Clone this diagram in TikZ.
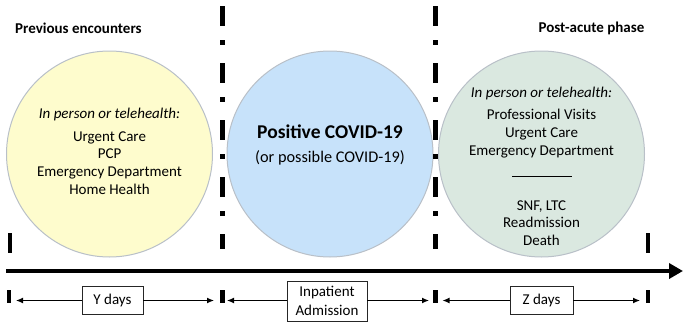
\documentclass[tikz,border=0pt]{standalone}
\usepackage{fontspec}
\setmainfont{Carlito}
\usetikzlibrary{arrows.meta}
\definecolor{cyellow}{RGB}{254,252,205}
\definecolor{cblue}{RGB}{199,226,250}
\definecolor{cgreen}{RGB}{218,232,224}
\definecolor{cedge}{RGB}{185,192,200}
\tikzset{
  phase/.style={circle, draw=cedge, line width=1pt, minimum size=206pt, inner sep=0pt},
  body/.style={inner sep=0pt, align=center, font=\fontsize{15}{17.8}\selectfont},
  heading/.style={inner sep=0pt, font=\fontsize{15}{18}\selectfont\bfseries},
  sep/.style={line width=4.4pt, dash pattern=on 20pt off 14pt on 5pt off 18pt},
  tick/.style={line width=4.4pt},
  span/.style={line width=1.2pt, -{Latex[length=7pt,width=6pt]}},
  daybox/.style={draw=black!85, line width=0.9pt, fill=white, inner sep=0pt, align=center, font=\fontsize{15}{18.5}\selectfont},
  timeline/.style={line width=4.5pt, -{Triangle[length=14pt,width=15pt]}}
}
\begin{document}
\begin{tikzpicture}[x=1pt,y=-1pt]
\useasboundingbox (0,0) rectangle (683,322);

% headings
\node[heading, anchor=west] (hprev) at (15,28) {Previous encounters};
\node[heading, anchor=east] (hpost) at (644.5,28) {Post-acute phase};

% phase circles
\node[phase, fill=cyellow] (cy) at (109.5,154) {};
\node[phase, fill=cblue] (cb) at (330,154) {};
\node[phase, fill=cgreen] (cg) at (541.5,154) {};

% circle texts
\node[body] (ty) at (109.5,151.5) {\textit{In person or telehealth:}\\[4.5pt]Urgent Care\\PCP\\Emergency Department\\Home Health};
\node[inner sep=0pt, font=\fontsize{19.5}{22}\selectfont\bfseries] (tb1) at (330,132) {Positive COVID-19};
\node[inner sep=0pt, font=\fontsize{16.3}{19}\selectfont] (tb2) at (330,158) {(or possible COVID-19)};
\node[body] (tg1) at (541.5,122.5) {\textit{In person or telehealth:}\\[4pt]Professional Visits\\Urgent Care\\Emergency Department};
\node[body] (tg2) at (541.5,223) {SNF, LTC\\Readmission\\Death};
\coordinate (gl1) at (512,176);
\coordinate (gl2) at (572,176);
\draw[line width=0.8pt] (gl1) -- (gl2);

% dash-dot separators
\draw[sep] (222.5,6) -- (222.5,249);
\draw[sep] (435.5,6) -- (435.5,249);

% upper end ticks
\draw[tick] (10,233) -- (10,253);
\draw[tick] (648,233) -- (648,253);

% main timeline
\coordinate (tl0) at (6,271);
\coordinate (tl1) at (683,271);
\draw[timeline] (tl0) -- (tl1);

% lower ticks
\draw[tick] (9,290) -- (9,303);
\draw[tick] (222.5,290) -- (222.5,303);
\draw[tick] (435.5,290) -- (435.5,303);
\draw[tick] (648,290) -- (648,303);

% boxes
\node[daybox, minimum width=61pt, minimum height=28pt] (yb) at (112.5,300.5) {Y days};
\node[daybox, minimum width=80pt, minimum height=40pt] (ib) at (327,301) {Inpatient\\Admission};
\node[daybox, minimum width=63pt, minimum height=28pt] (zb) at (541.5,300.5) {Z days};

\coordinate (ya) at (16,300.5);
\coordinate (yz) at (214,300.5);
\coordinate (ia) at (227,300.5);
\coordinate (iz) at (429,300.5);
\coordinate (za) at (442.5,300.5);
\coordinate (zz) at (640,300.5);

\draw[span] (yb.west) -- (ya);
\draw[span] (yb.east) -- (yz);
\draw[span] (ib.west |- ia) -- (ia);
\draw[span] (ib.east |- iz) -- (iz);
\draw[span] (zb.west) -- (za);
\draw[span] (zb.east) -- (zz);
\end{tikzpicture}
\end{document}
